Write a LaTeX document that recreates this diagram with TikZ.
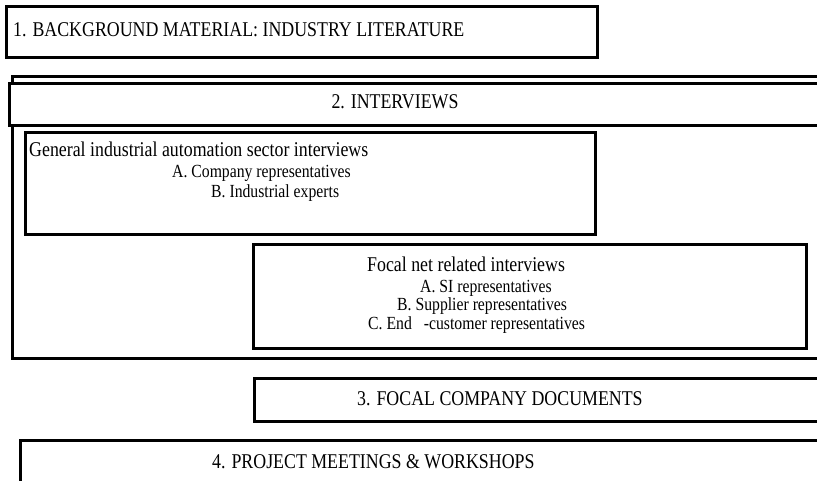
\documentclass[tikz,border=0pt]{standalone}
\usepackage{fontspec}
\setmainfont[FakeStretch=0.85]{Liberation Serif}

\tikzset{
  box/.style={draw, fill=white, line width=2.6pt, anchor=north west, inner sep=0pt},
  head/.style={font=\fontsize{21}{23}\selectfont, inner sep=0pt, anchor=base west},
  item/.style={font=\fontsize{18.5}{20}\selectfont, inner sep=0pt, anchor=base west},
}

\begin{document}
\begin{tikzpicture}[x=1pt, y=-1pt]
  \useasboundingbox (0,0) rectangle (817,481);
  \clip (0,0) rectangle (817,481);

  % boxes
  \node[box, minimum width=591pt, minimum height=51pt]  (literature) at (5,5) {};
  \node[box, minimum width=889pt, minimum height=282pt] (interviews) at (11,75) {};
  \node[box, minimum width=892pt, minimum height=42pt]  (interviews head) at (8,82) {};
  \node[box, minimum width=570pt, minimum height=102pt] (general) at (24,131) {};
  \node[box, minimum width=553pt, minimum height=104pt] (focal) at (252,243) {};
  \node[box, minimum width=647pt, minimum height=43pt]  (documents) at (253,377) {};
  \node[box, minimum width=881pt, minimum height=44pt]  (meetings) at (19,439) {};

  % texts
  \node[head] (literature text) at (13,37)
  {1. BACKGROUND MATERIAL: INDUSTRY LITERATURE};
  \node[head, anchor=base] (interviews text) at (395,109)
  {2. INTERVIEWS};
  \node[head] (general text) at (29,157)
  {General industrial automation sector interviews};
  \node[item] (general a) at (172,178) {A. Company representatives};
  \node[item] (general b) at (211,198) {B. Industrial experts};
  \node[head] (focal text) at (367,272)
  {Focal net related interviews};
  \node[item] (focal a) at (420,292) {A. SI representatives};
  \node[item] (focal b) at (397,310) {B. Supplier representatives};
  \node[item] (focal c) at (368,330) {C. End\hspace{12pt}-customer representatives};
  \node[head] (documents text) at (357,405)
  {3. FOCAL COMPANY DOCUMENTS};
  \node[head] (meetings text) at (212,468)
  {4. PROJECT MEETINGS \& WORKSHOPS};
\end{tikzpicture}
\end{document}
